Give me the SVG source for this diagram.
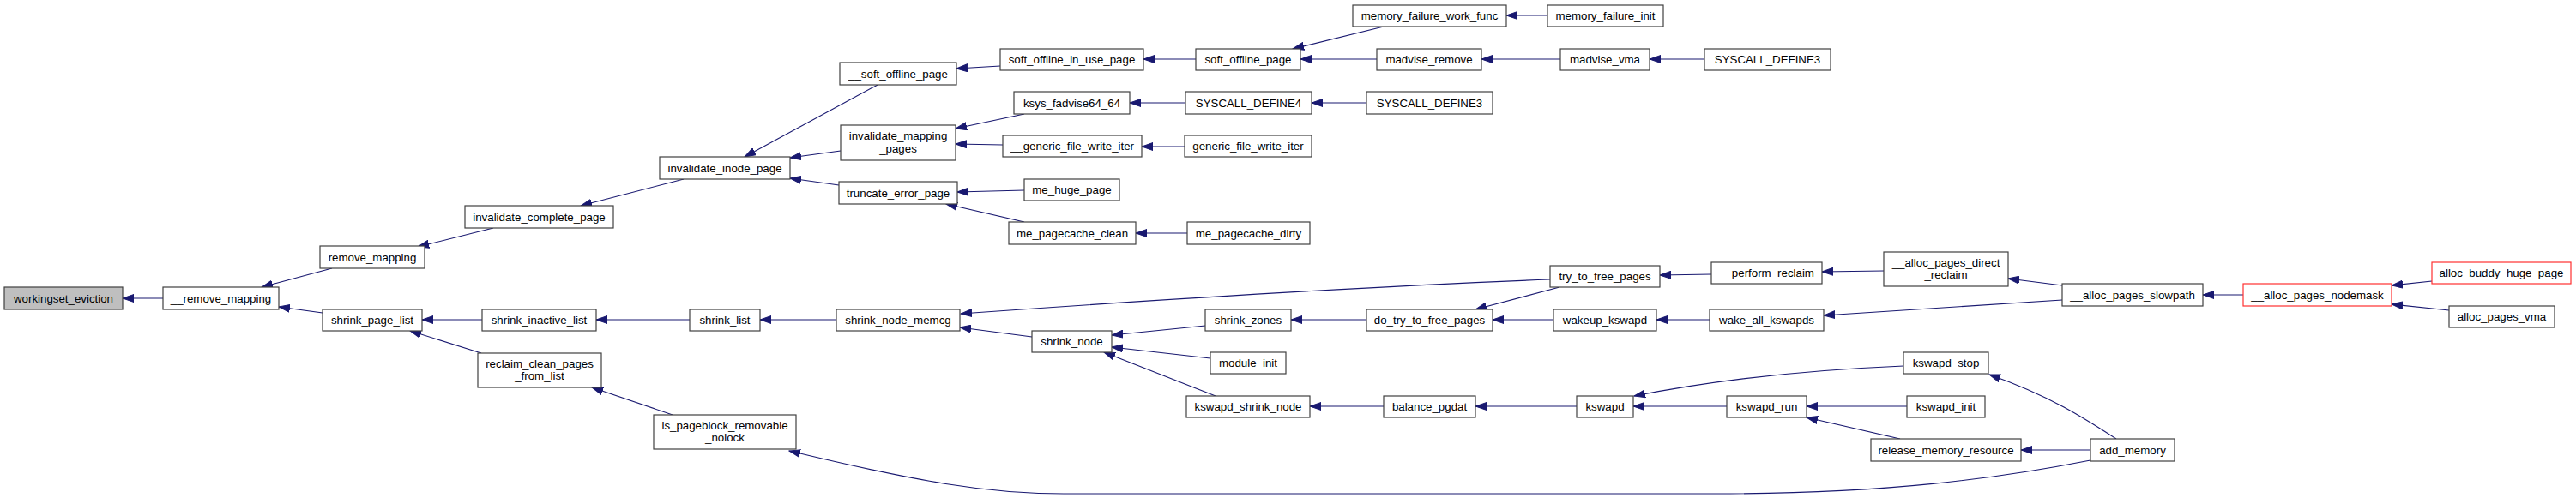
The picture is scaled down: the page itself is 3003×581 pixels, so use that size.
<svg xmlns="http://www.w3.org/2000/svg" width="3003" height="581" viewBox="0 0 3003 581">
<style>
.n rect{fill:#fff;stroke:#404040;stroke-width:1.2}
.n text{font-family:"Liberation Sans",Arial,sans-serif;font-size:13.3px;fill:#000;text-anchor:middle}
.hl rect{fill:#bfbfbf}
.red rect{stroke:#ff3030}
#edges path{fill:none;stroke:#191970;stroke-width:1.1;marker-end:url(#ah)}
</style>
<defs>
<marker id="ah" markerUnits="userSpaceOnUse" markerWidth="14" markerHeight="10" refX="13" refY="5" orient="auto" viewBox="0 0 14 10">
<path d="M0,0.5 L13,5 L0,9.5 z" fill="#191970" stroke="#191970" stroke-width="1"/>
</marker>
</defs>
<rect width="3003" height="581" fill="#fff"/>
<g id="edges">
<path d="M190,348 L143,348"/>
<path d="M387,313 L305,335"/>
<path d="M376,365 L325,358"/>
<path d="M575,266 L487,288"/>
<path d="M797,209 L677,240"/>
<path d="M1023,99 L868,183"/>
<path d="M980,176 L921,184"/>
<path d="M978,216 L921,208"/>
<path d="M1166,77 L1115,80"/>
<path d="M1194,133 L1114,150"/>
<path d="M1169,169 L1114,168"/>
<path d="M1194,222 L1116,224"/>
<path d="M1194,259 L1103,238"/>
<path d="M1394,69 L1333,69"/>
<path d="M1382,120 L1317,120"/>
<path d="M1381,171 L1331,171"/>
<path d="M1384,272 L1324,272"/>
<path d="M1613,31 L1507,57"/>
<path d="M1605,69 L1516,69"/>
<path d="M1804,18 L1756,18"/>
<path d="M1819,69 L1727,69"/>
<path d="M1987,69 L1923,69"/>
<path d="M1593,120 L1529,120"/>
<path d="M562,373 L492,373"/>
<path d="M561,412 L478,386"/>
<path d="M804,373 L695,373"/>
<path d="M975,373 L886,373"/>
<path d="M784,484 L690,452"/>
<path d="M2437,537 C2330,558 2200,576 2000,576 L1240,576 C1150,576 1070,562 920,526"/>
<path d="M1807,326 C1600,334 1400,346 1120,366"/>
<path d="M1203,393 L1119,382"/>
<path d="M1405,380 L1296,391"/>
<path d="M1411,418 L1296,405"/>
<path d="M1417,462 L1287,411"/>
<path d="M1593,373 L1505,373"/>
<path d="M1818,335 L1720,361"/>
<path d="M1811,373 L1740,373"/>
<path d="M1613,474 L1527,474"/>
<path d="M1838,474 L1720,474"/>
<path d="M1995,320 L1935,321"/>
<path d="M1993,373 L1931,373"/>
<path d="M2196,316 L2124,317"/>
<path d="M2404,333 L2341,325"/>
<path d="M2404,350 L2126,368"/>
<path d="M2615,344 L2568,344"/>
<path d="M2835,328 L2788,333"/>
<path d="M2855,362 L2788,355"/>
<path d="M2219,427 C2100,432 2000,443 1905,462"/>
<path d="M2013,474 L1904,474"/>
<path d="M2223,474 L2106,474"/>
<path d="M2215,512 L2106,487"/>
<path d="M2467,512 C2430,488 2390,462 2319,437"/>
<path d="M2437,525 L2356,525"/>
</g>
<g id="n0" class="n hl"><rect x="5" y="335" width="138" height="26"/><text x="74" y="352.5">workingset_eviction</text></g>
<g id="n1" class="n"><rect x="190" y="335" width="135" height="26"/><text x="257.5" y="352.5">__remove_mapping</text></g>
<g id="n2" class="n"><rect x="373" y="287" width="122" height="26"/><text x="434" y="304.5">remove_mapping</text></g>
<g id="n3" class="n"><rect x="376" y="361" width="116" height="25"/><text x="434" y="378">shrink_page_list</text></g>
<g id="n4" class="n"><rect x="542" y="240" width="173" height="26"/><text x="628.5" y="257.5">invalidate_complete_page</text></g>
<g id="n5" class="n"><rect x="769" y="183" width="152" height="26"/><text x="845" y="200.5">invalidate_inode_page</text></g>
<g id="n6" class="n"><rect x="979" y="73" width="136" height="26"/><text x="1047" y="90.5">__soft_offline_page</text></g>
<g id="n7" class="n"><rect x="980" y="146" width="134" height="41"/><text x="1047" y="163">invalidate_mapping</text><text x="1047" y="177.5">_pages</text></g>
<g id="n8" class="n"><rect x="978" y="212" width="138" height="26"/><text x="1047" y="229.5">truncate_error_page</text></g>
<g id="n9" class="n"><rect x="1166" y="57" width="167" height="25"/><text x="1249.5" y="74">soft_offline_in_use_page</text></g>
<g id="n10" class="n"><rect x="1182" y="107" width="135" height="26"/><text x="1249.5" y="124.5">ksys_fadvise64_64</text></g>
<g id="n11" class="n"><rect x="1169" y="158" width="162" height="25"/><text x="1250" y="175">__generic_file_write_iter</text></g>
<g id="n12" class="n"><rect x="1194" y="209" width="111" height="25"/><text x="1249.5" y="226">me_huge_page</text></g>
<g id="n13" class="n"><rect x="1176" y="259" width="148" height="26"/><text x="1250" y="276.5">me_pagecache_clean</text></g>
<g id="n14" class="n"><rect x="1394" y="57" width="122" height="25"/><text x="1455" y="74">soft_offline_page</text></g>
<g id="n15" class="n"><rect x="1382" y="107" width="147" height="26"/><text x="1455.5" y="124.5">SYSCALL_DEFINE4</text></g>
<g id="n16" class="n"><rect x="1381" y="158" width="148" height="25"/><text x="1455" y="175">generic_file_write_iter</text></g>
<g id="n17" class="n"><rect x="1384" y="259" width="143" height="26"/><text x="1455.5" y="276.5">me_pagecache_dirty</text></g>
<g id="n18" class="n"><rect x="1577" y="6" width="179" height="25"/><text x="1666.5" y="23">memory_failure_work_func</text></g>
<g id="n19" class="n"><rect x="1804" y="6" width="135" height="25"/><text x="1871.5" y="23">memory_failure_init</text></g>
<g id="n20" class="n"><rect x="1605" y="57" width="122" height="25"/><text x="1666" y="74">madvise_remove</text></g>
<g id="n21" class="n"><rect x="1819" y="57" width="104" height="25"/><text x="1871" y="74">madvise_vma</text></g>
<g id="n22" class="n"><rect x="1987" y="57" width="147" height="25"/><text x="2060.5" y="74">SYSCALL_DEFINE3</text></g>
<g id="n23" class="n"><rect x="1593" y="107" width="147" height="26"/><text x="1666.5" y="124.5">SYSCALL_DEFINE3</text></g>
<g id="n24" class="n"><rect x="562" y="361" width="133" height="25"/><text x="628.5" y="378">shrink_inactive_list</text></g>
<g id="n25" class="n"><rect x="804" y="361" width="82" height="25"/><text x="845" y="378">shrink_list</text></g>
<g id="n26" class="n"><rect x="557" y="412" width="144" height="40"/><text x="629" y="428.5">reclaim_clean_pages</text><text x="629" y="443">_from_list</text></g>
<g id="n27" class="n"><rect x="762" y="484" width="166" height="40"/><text x="845" y="500.5">is_pageblock_removable</text><text x="845" y="515">_nolock</text></g>
<g id="n28" class="n"><rect x="975" y="361" width="144" height="25"/><text x="1047" y="378">shrink_node_memcg</text></g>
<g id="n29" class="n"><rect x="1203" y="386" width="93" height="25"/><text x="1249.5" y="403">shrink_node</text></g>
<g id="n30" class="n"><rect x="1405" y="361" width="100" height="25"/><text x="1455" y="378">shrink_zones</text></g>
<g id="n31" class="n"><rect x="1411" y="411" width="88" height="25"/><text x="1455" y="428">module_init</text></g>
<g id="n32" class="n"><rect x="1383" y="462" width="144" height="25"/><text x="1455" y="479">kswapd_shrink_node</text></g>
<g id="n33" class="n"><rect x="1807" y="310" width="128" height="25"/><text x="1871" y="327">try_to_free_pages</text></g>
<g id="n34" class="n"><rect x="1593" y="361" width="147" height="25"/><text x="1666.5" y="378">do_try_to_free_pages</text></g>
<g id="n35" class="n"><rect x="1811" y="361" width="120" height="25"/><text x="1871" y="378">wakeup_kswapd</text></g>
<g id="n36" class="n"><rect x="1613" y="462" width="107" height="25"/><text x="1666.5" y="479">balance_pgdat</text></g>
<g id="n37" class="n"><rect x="1838" y="462" width="66" height="25"/><text x="1871" y="479">kswapd</text></g>
<g id="n38" class="n"><rect x="1995" y="306" width="129" height="25"/><text x="2059.5" y="323">__perform_reclaim</text></g>
<g id="n39" class="n"><rect x="1993" y="361" width="133" height="25"/><text x="2059.5" y="378">wake_all_kswapds</text></g>
<g id="n40" class="n"><rect x="2196" y="294" width="145" height="40"/><text x="2268.5" y="310.5">__alloc_pages_direct</text><text x="2268.5" y="325">_reclaim</text></g>
<g id="n41" class="n"><rect x="2404" y="331" width="164" height="26"/><text x="2486" y="348.5">__alloc_pages_slowpath</text></g>
<g id="n42" class="n red"><rect x="2615" y="331" width="173" height="26"/><text x="2701.5" y="348.5">__alloc_pages_nodemask</text></g>
<g id="n43" class="n red"><rect x="2835" y="306" width="162" height="25"/><text x="2916" y="323">alloc_buddy_huge_page</text></g>
<g id="n44" class="n"><rect x="2855" y="357" width="123" height="25"/><text x="2916.5" y="374">alloc_pages_vma</text></g>
<g id="n45" class="n"><rect x="2219" y="411" width="99" height="25"/><text x="2268.5" y="428">kswapd_stop</text></g>
<g id="n46" class="n"><rect x="2013" y="462" width="93" height="25"/><text x="2059.5" y="479">kswapd_run</text></g>
<g id="n47" class="n"><rect x="2223" y="462" width="91" height="25"/><text x="2268.5" y="479">kswapd_init</text></g>
<g id="n48" class="n"><rect x="2181" y="512" width="175" height="26"/><text x="2268.5" y="529.5">release_memory_resource</text></g>
<g id="n49" class="n"><rect x="2437" y="512" width="98" height="26"/><text x="2486" y="529.5">add_memory</text></g>
</svg>
